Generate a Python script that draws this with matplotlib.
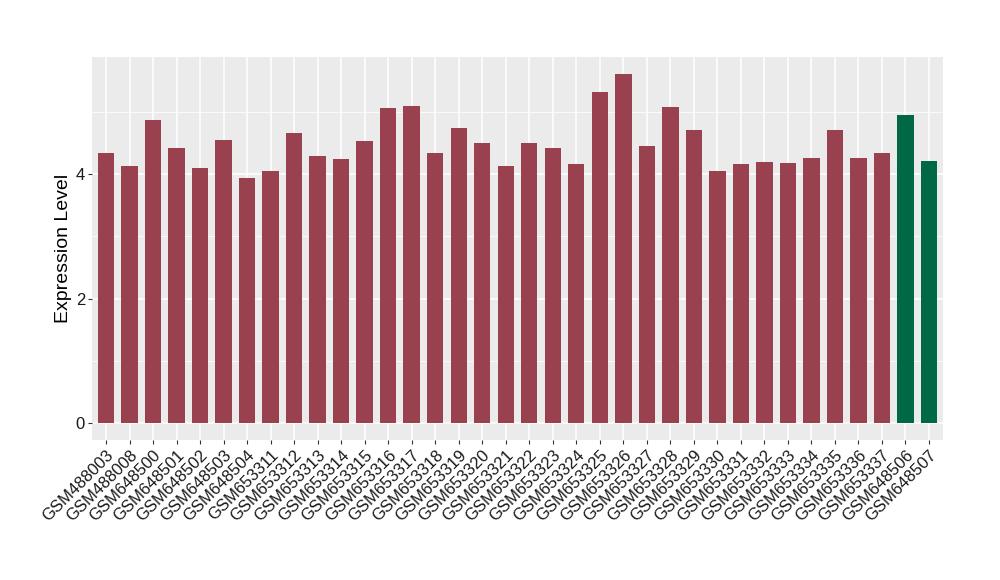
import matplotlib
matplotlib.use("Agg")
import matplotlib.pyplot as plt
from matplotlib.ticker import MultipleLocator

plt.rcParams['font.family'] = ['Liberation Sans', 'DejaVu Sans']

samples = ["GSM488003", "GSM488008", "GSM648500", "GSM648501", "GSM648502", "GSM648503",
           "GSM648504", "GSM653311", "GSM653312", "GSM653313", "GSM653314", "GSM653315",
           "GSM653316", "GSM653317", "GSM653318", "GSM653319", "GSM653320", "GSM653321",
           "GSM653322", "GSM653323", "GSM653324", "GSM653325", "GSM653326", "GSM653327",
           "GSM653328", "GSM653329", "GSM653330", "GSM653331", "GSM653332", "GSM653333",
           "GSM653334", "GSM653335", "GSM653336", "GSM653337", "GSM648506", "GSM648507"]
values = [4.34, 4.13, 4.87, 4.42, 4.10, 4.55, 3.94, 4.05, 4.66, 4.29, 4.24, 4.53,
          5.06, 5.10, 4.35, 4.75, 4.51, 4.14, 4.51, 4.42, 4.16, 5.33, 5.61, 4.45,
          5.08, 4.71, 4.05, 4.16, 4.19, 4.18, 4.26, 4.72, 4.27, 4.34, 4.95, 4.22]
groups = ["a"] * 34 + ["b"] * 2
group_colors = {"a": "#9A4150", "b": "#006845"}

fig = plt.figure(figsize=(10, 5.8), dpi=100)
ax = fig.add_axes([0.092, 0.241, 0.851, 0.661])
ax.set_facecolor("#EBEBEB")

x = list(range(1, len(samples) + 1))
ax.bar(x, values, width=0.7, color=[group_colors[g] for g in groups], zorder=3)

ax.set_xlim(0.4, len(samples) + 0.6)
vmax = max(values)
ax.set_ylim(-0.05 * vmax, vmax * 1.05)
ax.yaxis.set_major_locator(MultipleLocator(2))
ax.yaxis.set_minor_locator(MultipleLocator(1))
ax.grid(which="major", color="white", linewidth=1.1, zorder=1)
ax.grid(which="minor", axis="y", color="white", linewidth=0.55, zorder=1)
ax.set_xticks(x)
ax.set_xticklabels(samples, rotation=45, ha="right", rotation_mode="anchor", fontsize=12)
ax.tick_params(axis="both", which="major", length=3, color="#333333", labelsize=12,
               labelcolor="#1a1a1a", pad=2)
ax.tick_params(axis="y", which="minor", length=0)
for s in ax.spines.values():
    s.set_visible(False)
ax.set_ylabel("Expression Level", fontsize=14, labelpad=3)

fig.savefig("out.png", dpi=100)
